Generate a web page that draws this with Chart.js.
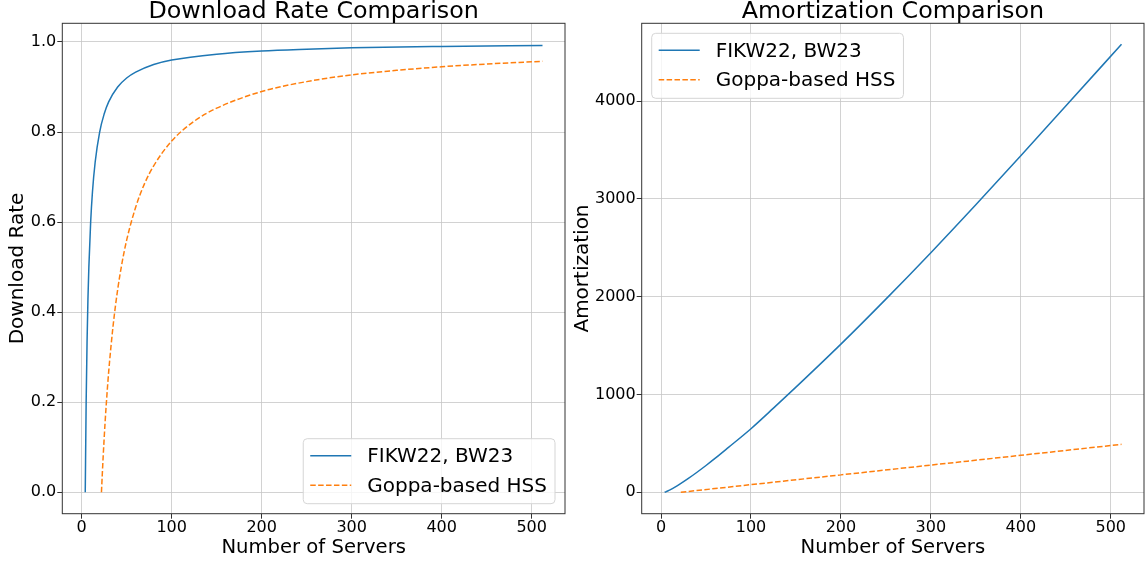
<!DOCTYPE html>
<html>
<head>
<meta charset="utf-8">
<script src="https://cdn.jsdelivr.net/npm/chart.js@4.4.0/dist/chart.umd.min.js"></script>
<style>
  html, body { margin: 0; padding: 0; background: #fff; }
  #wrap { position: relative; width: 1148px; height: 565px; overflow: hidden; }
  canvas { position: absolute; top: 0; }
  #rateChart { left: 0; }
  #amortChart { left: 570px; }
</style>
</head>
<body>
<div id="wrap">
  <canvas id="rateChart" width="570" height="565"></canvas>
  <canvas id="amortChart" width="578" height="565"></canvas>
</div>
<script>
// Values
const seriesLabels = ['FIKW22, BW23', 'Goppa-based HSS'];
const xTicks = [0, 100, 200, 300, 400, 500];
const rateTicks = [0, 0.2, 0.4, 0.6, 0.8, 1.0];
const amortTicks = [0, 1000, 2000, 3000, 4000];

// Download rate, FIKW22 / BW23
const fikwRateServers = [4, 5, 6, 7, 8, 10, 12, 15, 20, 25, 30, 40, 50, 60, 80, 100, 150, 200, 250, 300, 400, 512];
const fikwRate = [0, 0.2, 0.333, 0.43, 0.5, 0.6, 0.667, 0.733, 0.8, 0.84, 0.867, 0.9, 0.92, 0.933, 0.95, 0.96, 0.973, 0.98, 0.984, 0.987, 0.99, 0.992];

// Download rate, Goppa-based HSS
const goppaRateServers = [22, 23, 24, 26, 28, 30, 35, 40, 45, 50, 60, 70, 80, 100, 125, 150, 200, 250, 300, 350, 400, 450, 512];
const goppaRate = [0, 0.043, 0.083, 0.154, 0.214, 0.267, 0.371, 0.45, 0.511, 0.56, 0.633, 0.686, 0.725, 0.78, 0.824, 0.853, 0.89, 0.912, 0.927, 0.937, 0.945, 0.951, 0.957];

// Amortization, FIKW22 / BW23
const fikwAmortServers = [4, 6, 8, 10, 15, 20, 30, 40, 50, 60, 75, 100, 125, 150, 200, 250, 300, 350, 400, 450, 512];
const fikwAmort = [0, 7, 16, 25, 50, 78, 139, 205, 274, 346, 459, 650, 860, 1075, 1515, 1975, 2450, 2940, 3440, 3950, 4580];

// Amortization, Goppa-based HSS
const goppaAmortServers = [22, 100, 200, 300, 400, 512];
const goppaAmort = [0, 78, 178, 278, 378, 490];

const FONT = '"DejaVu Sans", "Liberation Sans", sans-serif';

function zip(xs, ys) {
    return xs.map((x, i) => ({ x: x, y: ys[i] }));
}

// Axes frame, title and in-plot legend (matplotlib look)
const axesDecor = {
    id: 'axesDecor',
    afterDatasetsDraw(chart) {
        const { ctx, chartArea: a } = chart;
        ctx.save();
        ctx.strokeStyle = '#333';
        ctx.lineWidth = 1;
        ctx.strokeRect(a.left, a.top, a.right - a.left, a.bottom - a.top);
        ctx.restore();
    },
    afterDraw(chart, args, opts) {
        const { ctx, chartArea: a } = chart;
        ctx.save();
        ctx.fillStyle = '#000';
        ctx.font = '23.8px ' + FONT;
        ctx.textAlign = 'center';
        ctx.textBaseline = 'alphabetic';
        ctx.fillText(opts.title, (a.left + a.right) / 2, 18);

        ctx.font = '20px ' + FONT;
        const sets = chart.data.datasets;
        const textW = Math.max(...sets.map(d => ctx.measureText(d.label).width));
        const w = 64 + textW + 8;
        const h = 65;
        const x0 = opts.corner === 'lowerRight' ? a.right - 10 - w : a.left + 10;
        const y0 = opts.corner === 'lowerRight' ? a.bottom - 10 - h : a.top + 10;
        ctx.beginPath();
        ctx.roundRect(x0, y0, w, h, 4);
        ctx.fillStyle = 'rgba(255,255,255,0.8)';
        ctx.fill();
        ctx.strokeStyle = '#d5d5d5';
        ctx.lineWidth = 1;
        ctx.stroke();

        sets.forEach((d, i) => {
            const y = y0 + 17 + i * 29.5;
            ctx.beginPath();
            ctx.setLineDash(d.borderDash || []);
            ctx.strokeStyle = d.borderColor;
            ctx.lineWidth = d.borderWidth;
            ctx.moveTo(x0 + 7, y);
            ctx.lineTo(x0 + 48, y);
            ctx.stroke();
            ctx.setLineDash([]);
            ctx.fillStyle = '#000';
            ctx.textAlign = 'left';
            ctx.textBaseline = 'middle';
            ctx.fillText(d.label, x0 + 64, y + 1.3);
        });
        ctx.restore();
    }
};

function makeChart(id, cfg) {
    const tickFont = { family: FONT, size: 16, lineHeight: 1 };
    const titleFont = { family: FONT, size: 19.6, lineHeight: 1 };
    const grid = { color: '#c6c6c6', lineWidth: 0.8, tickColor: '#333', tickLength: 5, tickWidth: 1 };

    return new Chart(document.getElementById(id), {
        type: 'line',
        data: {
            datasets: [{
                label: seriesLabels[0],
                data: cfg.blue,
                borderColor: '#1f77b4',
                borderWidth: 1.5,
                pointRadius: 0,
                cubicInterpolationMode: 'monotone',
                fill: false
            }, {
                label: seriesLabels[1],
                data: cfg.orange,
                borderColor: '#ff7f0e',
                borderWidth: 1.5,
                borderDash: [5.5, 2.4],
                pointRadius: 0,
                cubicInterpolationMode: 'monotone',
                fill: false
            }]
        },
        options: {
            responsive: false,
            animation: false,
            events: [],
            layout: { padding: { left: 0, right: cfg.padRight, top: 23.3, bottom: 0 } },
            plugins: {
                legend: { display: false },
                tooltip: { enabled: false },
                axesDecor: { title: cfg.title, corner: cfg.corner }
            },
            scales: {
                x: {
                    type: 'linear',
                    min: -21.5,
                    max: 537,
                    afterBuildTicks: s => { s.ticks = xTicks.map(v => ({ value: v })); },
                    afterFit: s => { s.height = 51.3; },
                    ticks: { font: tickFont, color: '#000', padding: 1, maxRotation: 0, autoSkip: false, callback: v => String(v) },
                    grid: grid,
                    border: { display: false },
                    title: { display: true, text: 'Number of Servers', font: titleFont, color: '#000', padding: { top: 0, bottom: 7 } }
                },
                y: {
                    type: 'linear',
                    min: cfg.yMin,
                    max: cfg.yMax,
                    afterBuildTicks: s => { s.ticks = cfg.yTicks.map(v => ({ value: v })); },
                    afterFit: s => { s.width = cfg.yWidth; },
                    ticks: { font: tickFont, color: '#000', padding: 1, autoSkip: false, callback: cfg.yFormat },
                    grid: grid,
                    border: { display: false },
                    title: { display: true, text: cfg.yTitle, font: { family: FONT, size: 20, lineHeight: 1 }, color: '#000', padding: { top: cfg.yTitlePad, bottom: 0 } }
                }
            }
        },
        plugins: [axesDecor]
    });
}

makeChart('rateChart', {
    title: 'Download Rate Comparison',
    corner: 'lowerRight',
    blue: zip(fikwRateServers, fikwRate),
    orange: zip(goppaRateServers, goppaRate),
    yTicks: rateTicks,
    yMin: -0.0475,
    yMax: 1.0415,
    yFormat: v => v.toFixed(1),
    yTitle: 'Download Rate',
    yTitlePad: 8,
    yWidth: 62.3,
    padRight: 5
});

makeChart('amortChart', {
    title: 'Amortization Comparison',
    corner: 'upperLeft',
    blue: zip(fikwAmortServers, fikwAmort),
    orange: zip(goppaAmortServers, goppaAmort),
    yTicks: amortTicks,
    yMin: -219,
    yMax: 4795,
    yFormat: v => String(v),
    yTitle: 'Amortization',
    yTitlePad: 2.4,
    yWidth: 71.7,
    padRight: 4
});
</script>
</body>
</html>
